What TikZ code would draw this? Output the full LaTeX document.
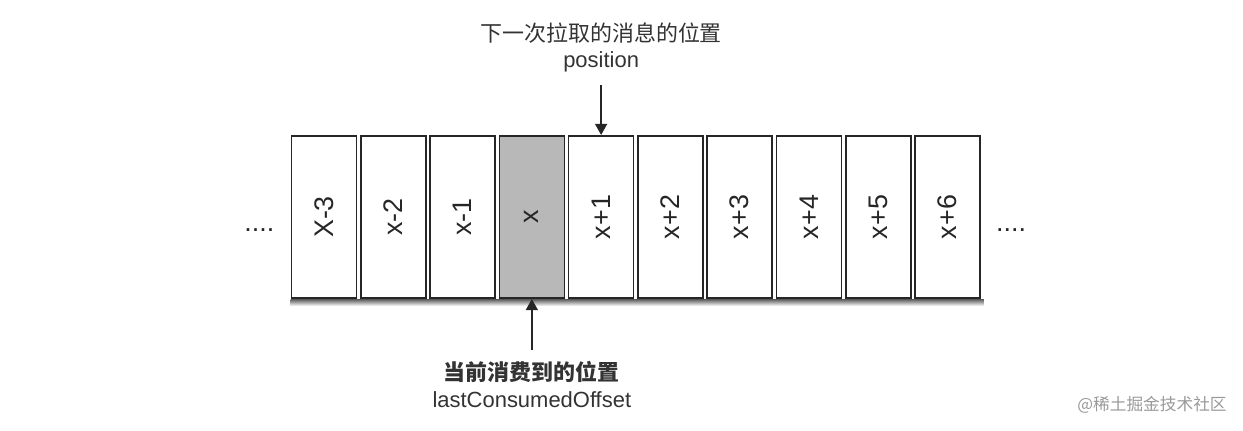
\documentclass[tikz,border=0pt]{standalone}
\usepackage{fontspec}
\setmainfont{Liberation Sans}
\newfontfamily\cjk{Noto Sans CJK SC}
\usepackage{tikz}
\usetikzlibrary{arrows.meta,positioning,backgrounds,calc}

\begin{document}
\begin{tikzpicture}[node distance=0.054cm,
  cell/.style={draw=black!85, line width=0.9pt, fill=white, minimum width=1.30cm,
               minimum height=3.25cm, inner sep=0pt, text=black!85,
               font=\fontsize{15.3}{18}\selectfont},
  cell4/.style={fill=black!28},
  lbl/.style={inner sep=0pt, text=black!80, font=\fontsize{12.5}{15}\selectfont},
  more/.style={inner sep=0pt, text=black!85, font=\fontsize{15.3}{18}\selectfont},
  ar/.style={-{Triangle[length=2.2mm,width=2.4mm]}, line width=0.8pt, black!85}]
\useasboundingbox (0,0) rectangle (24.86,-8.6);
\node[cell] (b1) at (6.48,-4.34) {\rotatebox{90}{X-3}};
\foreach \t [count=\i from 2] in {x-2,x-1,x,x+1,x+2,x+3,x+4,x+5,x+6} {
  \pgfmathtruncatemacro\j{\i-1}
  \node[cell, cell\i/.try, right=of b\j] (b\i) {\rotatebox{90}{\t}};
}
\begin{scope}[on background layer]
  \shade[top color=black!65, bottom color=white]
    (b1.south west) rectangle ($(b10.south east)+(0.06,-0.14)$);
\end{scope}
\node[more, left=0.32cm of b1, yshift=-0.26cm] (ldots) {....};
\node[more, right=0.30cm of b10, yshift=-0.26cm] (rdots) {....};
% next fetch
\node[lbl, above=1.25cm of b5] (pos) {position};
\node[lbl, above=0.16cm of pos] (nextpos) {\cjk 下一次拉取的消息的位置};
\draw[ar, shorten <=0.25cm] (pos) -- (b5);
% consumed so far
\node[lbl, below=1.24cm of b4] (curpos) {\cjk\bfseries 当前消费到的位置};
\node[lbl, below=0.16cm of curpos] (lastoff) {lastConsumedOffset};
\draw[ar, shorten <=0.22cm] (curpos) -- (b4);
\node[anchor=east, inner sep=0pt, text=black!40, font=\fontsize{9.5}{11}\selectfont\cjk]
  (mark) at (24.54,-8.1) {@稀土掘金技术社区};
\end{tikzpicture}
\end{document}
